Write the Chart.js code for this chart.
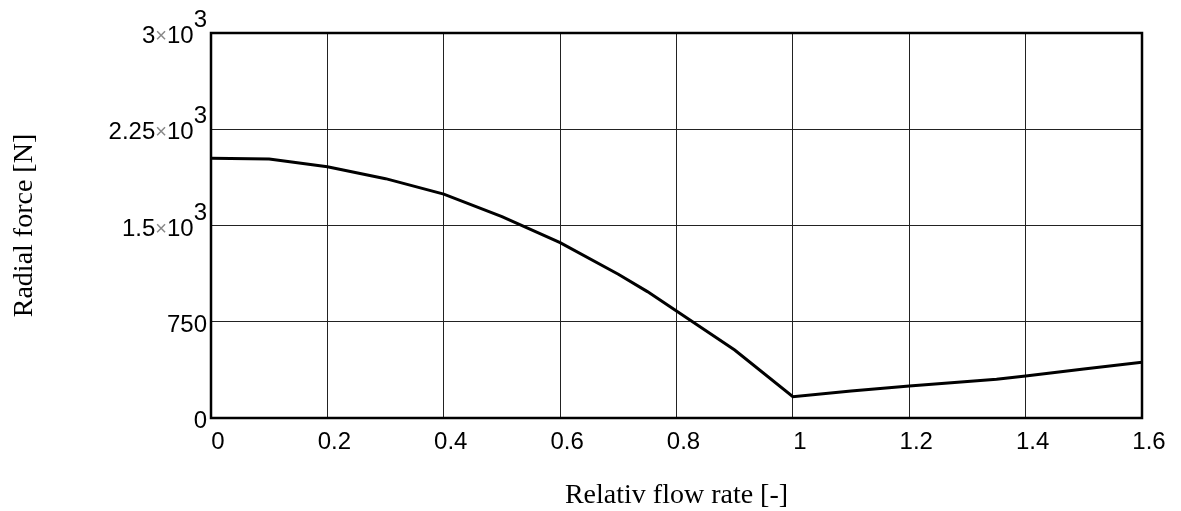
<!DOCTYPE html>
<html>
<head>
<meta charset="utf-8">
<title>Radial force vs relative flow rate</title>
<script src="https://cdn.jsdelivr.net/npm/chart.js@4.4.1/dist/chart.umd.min.js"></script>
<style>
    html, body { margin: 0; padding: 0; background: #fff; }
    #wrap { width: 1181px; height: 511px; }
</style>
</head>
<body>
<div id="wrap"><canvas id="forceChart"></canvas></div>
<script>
// Measured radial force over relative flow rate
const flowRate = [0, 0.1, 0.2, 0.3, 0.4, 0.5, 0.6, 0.7, 0.75, 0.9, 1.0, 1.1, 1.2, 1.35, 1.4, 1.5, 1.6];
const radialForce = [2025, 2018, 1958, 1865, 1745, 1569, 1366, 1120, 985, 530, 166, 210, 249, 302, 327, 382, 434];

// X tick labels (0 .. 1.6 in steps of 0.2)
const xTickLabels = ['0', '0.2', '0.4', '0.6', '0.8', '1', '1.2', '1.4', '1.6'];

// Y tick labels: mantissa part and power of ten (drawn as superscript)
const yTickValues = [0, 750, 1500, 2250, 3000];
const yTickBase = ['0', '750', '1.5', '2.25', '3'];
const yTickExp = ['', '', '3', '3', '3'];

const xTitle = 'Relativ flow rate [-]';
const yTitle = 'Radial force [N]';

const tickFont = "24px 'Liberation Sans', Arial, sans-serif";
const crossFont = "20px 'Liberation Sans', Arial, sans-serif";
const timesFont = "28px 'Liberation Serif', 'Times New Roman', serif";

// Draws the frame, the y labels in "a×10^b" form and both axis titles
const decorations = {
    id: 'decorations',
    afterDatasetsDraw(chart) {
        const ctx = chart.ctx;
        const area = chart.chartArea;
        const yScale = chart.scales.y;

        ctx.save();
        ctx.strokeStyle = '#000';
        ctx.lineWidth = 2.5;
        ctx.strokeRect(area.left, area.top, area.right - area.left, area.bottom - area.top);

        // y tick labels, right aligned next to the frame
        ctx.fillStyle = '#000';
        ctx.textBaseline = 'alphabetic';
        ctx.textAlign = 'left';
        const rightEdge = area.left - 4;
        yTickValues.forEach((v, i) => {
            const y = yScale.getPixelForValue(v) + 10;
            ctx.font = tickFont;
            if (yTickExp[i] === '') {
                const w = ctx.measureText(yTickBase[i]).width;
                ctx.fillText(yTickBase[i], rightEdge - w, y);
                return;
            }
            const expW = ctx.measureText(yTickExp[i]).width;
            const tenW = ctx.measureText('10').width;
            const baseW = ctx.measureText(yTickBase[i]).width;
            ctx.font = crossFont;
            const timesW = ctx.measureText('\u00d7').width;

            let x = rightEdge - expW - tenW - timesW - baseW;
            ctx.font = tickFont;
            ctx.fillText(yTickBase[i], x, y);
            x += baseW;
            ctx.font = crossFont;
            ctx.fillStyle = '#888';
            ctx.fillText('\u00d7', x, y - 1);
            ctx.fillStyle = '#000';
            x += timesW;
            ctx.font = tickFont;
            ctx.fillText('10', x, y);
            x += tenW;
            ctx.fillText(yTickExp[i], x, y - 16);
        });

        // axis titles
        ctx.font = timesFont;
        ctx.textAlign = 'center';
        ctx.fillText(xTitle, (area.left + area.right) / 2, 503);

        ctx.translate(25, (area.top + area.bottom) / 2);
        ctx.rotate(-Math.PI / 2);
        ctx.textBaseline = 'middle';
        ctx.fillText(yTitle, 0, 0);
        ctx.restore();
    }
};

const ctx = document.getElementById('forceChart').getContext('2d');
const chart = new Chart(ctx, {
    type: 'line',
    data: {
        datasets: [{
            data: flowRate.map((x, i) => ({ x: x, y: radialForce[i] })),
            borderColor: '#000',
            borderWidth: 3,
            pointRadius: 0,
            tension: 0,
            fill: false
        }]
    },
    options: {
        responsive: true,
        maintainAspectRatio: false,
        animation: false,
        layout: {
            padding: { top: 33, right: 39, left: 0, bottom: 0 }
        },
        plugins: {
            legend: { display: false },
            tooltip: { enabled: false }
        },
        scales: {
            x: {
                type: 'linear',
                min: 0,
                max: 1.6,
                ticks: {
                    stepSize: 0.2,
                    color: '#000',
                    padding: 10,
                    labelOffset: 7,
                    maxRotation: 0,
                    font: { family: "'Liberation Sans', Arial, sans-serif", size: 24 },
                    callback: (value, index) => xTickLabels[index]
                },
                grid: { color: '#222', lineWidth: 1, drawTicks: false },
                border: { display: false },
                afterFit(scale) { scale.height = 93; }
            },
            y: {
                min: 0,
                max: 3000,
                ticks: { stepSize: 750, display: false },
                grid: { color: '#222', lineWidth: 1, drawTicks: false },
                border: { display: false },
                afterFit(scale) { scale.width = 211; }
            }
        }
    },
    plugins: [decorations]
});
</script>
</body>
</html>
